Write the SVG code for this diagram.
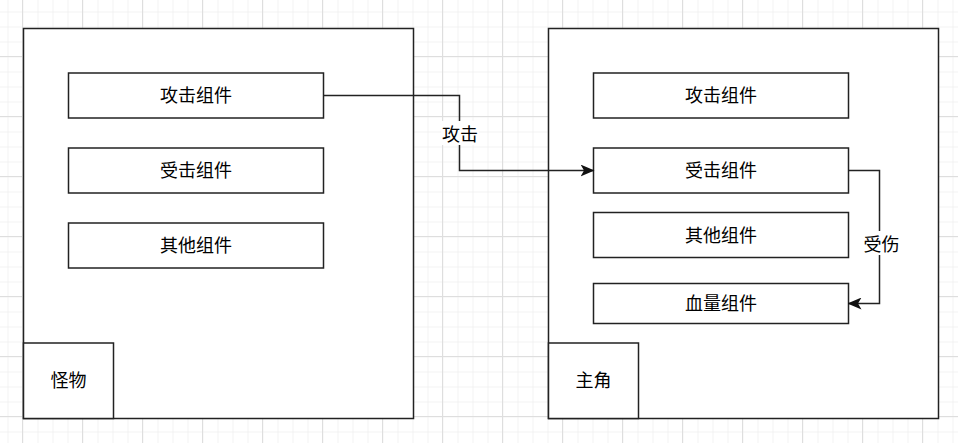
<svg xmlns="http://www.w3.org/2000/svg" width="958" height="443" viewBox="0 0 958 443">
<style>
.box{fill:#fff;stroke:#222;stroke-width:1.5}
.lbl{font-family:"Noto Sans CJK SC","Liberation Sans",sans-serif;font-size:18px;fill:#000;text-anchor:middle;dominant-baseline:central}
.edge{fill:none;stroke:#222;stroke-width:1.5}
</style>
<defs>
<pattern id="minor" x="7.5" y="-3.5" width="15" height="15" patternUnits="userSpaceOnUse">
<path d="M0,0.5 H15 M0.5,0 V15" stroke="#f2f2f2" stroke-width="1" fill="none"/>
</pattern>
<pattern id="major" x="22" y="56" width="60" height="60" patternUnits="userSpaceOnUse">
<path d="M0,0.5 H60 M0.5,0 V60" stroke="#dedede" stroke-width="1" fill="none"/>
</pattern>
<marker id="arr" viewBox="0 0 14 12" refX="13" refY="6" markerWidth="14" markerHeight="12" markerUnits="userSpaceOnUse" orient="auto">
<path d="M0,0 L14,6 L0,12 L3.5,6 Z" fill="#111"/>
</marker>
</defs>
<rect width="958" height="443" fill="#fff"/>
<rect width="958" height="443" fill="url(#minor)"/>
<rect width="958" height="443" fill="url(#major)"/>

<g id="monster">
<rect class="box" x="23.5" y="28.5" width="390" height="390"/>
</g>
<g id="monster-attack">
<rect class="box" x="68.5" y="73" width="255" height="45"/>
<text class="lbl" x="196" y="94">攻击组件</text>
</g>
<g id="monster-hit">
<rect class="box" x="68.5" y="148" width="255" height="45"/>
<text class="lbl" x="196" y="169">受击组件</text>
</g>
<g id="monster-other">
<rect class="box" x="68.5" y="223" width="255" height="45"/>
<text class="lbl" x="196" y="244">其他组件</text>
</g>
<g id="monster-label">
<rect class="box" x="23.5" y="343" width="90" height="75.5"/>
<text class="lbl" x="68.5" y="379">怪物</text>
</g>

<g id="hero">
<rect class="box" x="548.5" y="28.5" width="390" height="390"/>
</g>
<g id="hero-attack">
<rect class="box" x="593.5" y="73" width="255" height="45"/>
<text class="lbl" x="721" y="94">攻击组件</text>
</g>
<g id="hero-hit">
<rect class="box" x="593.5" y="148" width="255" height="45"/>
<text class="lbl" x="721" y="169">受击组件</text>
</g>
<g id="hero-other">
<rect class="box" x="593.5" y="212.5" width="255" height="45"/>
<text class="lbl" x="721" y="233.5">其他组件</text>
</g>
<g id="hero-hp">
<rect class="box" x="593.5" y="283.5" width="255" height="40"/>
<text class="lbl" x="721" y="302">血量组件</text>
</g>
<g id="hero-label">
<rect class="box" x="548.5" y="343" width="90" height="75.5"/>
<text class="lbl" x="593.5" y="379">主角</text>
</g>

<g id="connectors">
<path class="edge" d="M323.5,95.5 H459.5 V170.5 H593.5" marker-end="url(#arr)"/>
<rect x="441" y="121" width="38" height="24" fill="#fff"/>
<text class="lbl" x="460" y="132.5">攻击</text>
<path class="edge" d="M848.5,170.5 H879.5 V303.5 H848.5" marker-end="url(#arr)"/>
<rect x="862" y="231" width="39" height="24" fill="#fff"/>
<text class="lbl" x="881.5" y="242.5">受伤</text>
</g>
</svg>
